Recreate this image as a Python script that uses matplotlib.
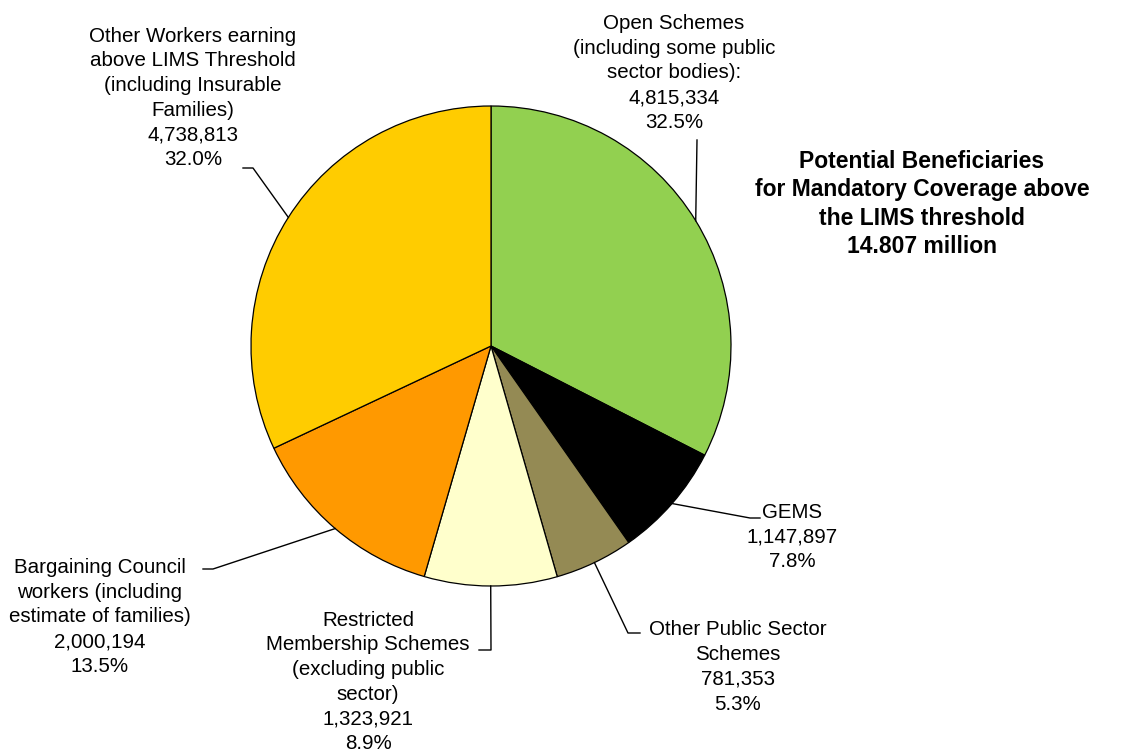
import numpy as np
import matplotlib
matplotlib.use("Agg")
import matplotlib.pyplot as plt

plt.rcParams["font.family"] = ["Liberation Sans", "DejaVu Sans"]

# Slices, clockwise from 12 o'clock
names = [
    "Open Schemes\n(including some public\nsector bodies):",
    "GEMS",
    "Other Public Sector\nSchemes",
    "Restricted\nMembership Schemes\n(excluding public\nsector)",
    "Bargaining Council\nworkers (including\nestimate of families)",
    "Other Workers earning\nabove LIMS Threshold\n(including Insurable\nFamilies)",
]
values = [4815334, 1147897, 781353, 1323921, 2000194, 4738813]
colors = ["#92D050", "#000000", "#948A54", "#FFFFCC", "#FF9900", "#FFCC00"]

total = sum(values)
title = ("Potential Beneficiaries\nfor Mandatory Coverage above\n"
         "the LIMS threshold\n{:.3f} million".format(np.floor(total / 1e3) / 1e3))

W, H = 1127, 756
cx, cy, r = 491, 346, 240   # pie centre / radius in pixels (y from top)

# label layout in pixels (y from top): text centre, elbow point, line end x
text_xy = [(674, 73), (792, 537), (738, 667), (368, 682), (100, 617), (193, 98)]
elbows = [(697, 140), (750, 518), (628, 633), (491, 650), (213, 569), (253, 168)]
line_end = [697, 760, 640, 479, 203, 243]

fig = plt.figure(figsize=(W / 100, H / 100), dpi=100)
ax = fig.add_axes([0, 0, 1, 1])

wedges, _ = ax.pie(values, colors=colors, startangle=90, counterclock=False,
                   center=(cx, H - cy), radius=r,
                   wedgeprops=dict(edgecolor="black", linewidth=0.9))

for w, name, val, (tx, ty), (ex, ey), lx in zip(wedges, names, values,
                                                 text_xy, elbows, line_end):
    ang = np.deg2rad((w.theta1 + w.theta2) / 2)
    px = cx + r * np.cos(ang)
    py = (H - cy) + r * np.sin(ang)
    ax.plot([px, ex, lx], [py, H - ey, H - ey], color="black", lw=1.0)
    label = "{}\n{:,}\n{:.1f}%".format(name, val, 100 * val / total)
    ax.text(tx, H - ty, label, ha="center", va="center", multialignment="center",
            fontsize=14.8, linespacing=1.38, color="black")

ax.text(922, H - 204, title, ha="center", va="center", multialignment="center",
        fontsize=16.5, fontweight="bold", linespacing=1.3)

ax.set_xlim(0, W)
ax.set_ylim(0, H)
ax.set_aspect("equal")
ax.axis("off")

fig.savefig("out.png", dpi=100, facecolor="white")
